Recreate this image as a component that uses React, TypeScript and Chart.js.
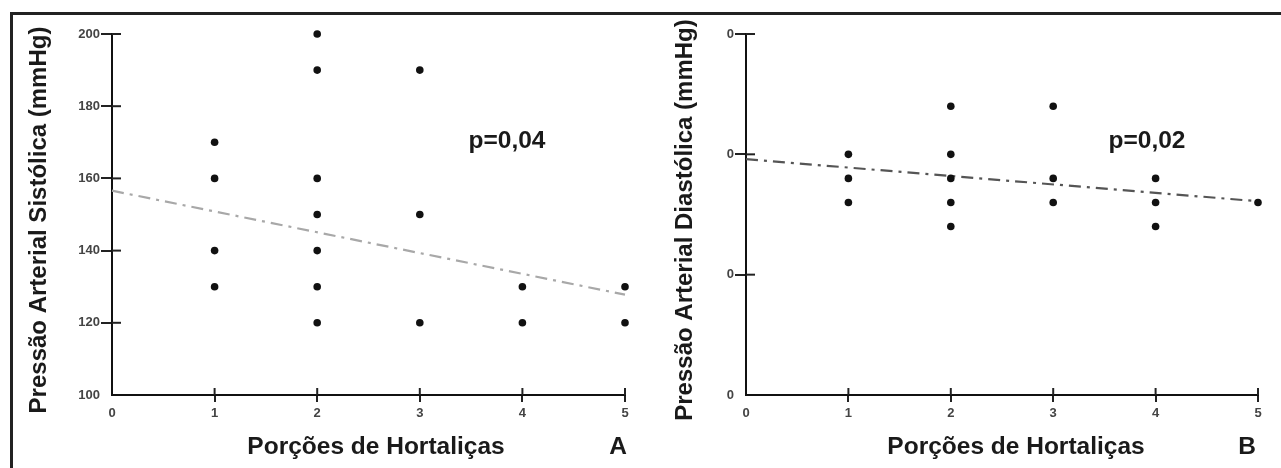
import React, { useEffect, useRef } from "react";
import { Chart, registerables } from "chart.js";
Chart.register(...registerables);

// ---------- DATA ----------
const xTicks = [0, 1, 2, 3, 4, 5];

// Panel A: systolic pressure
const portionsA = [1, 1, 1, 1, 2, 2, 2, 2, 2, 2, 2, 3, 3, 3, 4, 4, 5, 5];
const systolicA = [170, 160, 140, 130, 200, 190, 160, 150, 140, 130, 120, 190, 150, 120, 130, 120, 130, 120];
const trendXA = [0, 5];
const trendYA = [156.6, 127.8];
const yTicksA = [100, 120, 140, 160, 180, 200];
const yTickLabelsA = ["100", "120", "140", "160", "180", "200"];

// Panel B: diastolic pressure
const portionsB = [1, 1, 1, 2, 2, 2, 2, 2, 3, 3, 3, 4, 4, 4, 5];
const diastolicB = [100, 90, 80, 120, 100, 90, 80, 70, 120, 90, 80, 90, 80, 70, 80];
const trendXB = [0, 5];
const trendYB = [98, 80.5];
const yTicksB = [0, 50, 100, 150];
const yTickLabelsB = ["0", "0", "0", "0"];

const xTitle = "Porções de Hortaliças";
const yTitleA = "Pressão Arterial Sistólica (mmHg)";
const yTitleB = "Pressão Arterial Diastólica (mmHg)";
const pTextA = "p=0,04";
const pTextB = "p=0,02";

const FONT = '"Liberation Sans", Arial, sans-serif';

type PanelCfg = {
  xs: number[];
  ys: number[];
  tx: number[];
  ty: number[];
  yTicks: number[];
  yLabels: string[];
  yTitle: string;
  pText: string;
  letter: string;
  trendColor: string;
  yAxisWidth: number;
  rightPad: number;
  yTitleX: number;
  width: number;
};

function makeConfig(c: PanelCfg): any {
  const H = 468;
  const top = 34;
  const bottom = 395;
  const textPlugin = {
    id: "panelText",
    afterDraw(chart: any) {
      const ctx = chart.ctx;
      const area = chart.chartArea;
      ctx.save();
      // inner tick marks (crossing the axes)
      ctx.strokeStyle = "#222";
      ctx.lineWidth = 2;
      const ys = chart.scales.y;
      const xs = chart.scales.x;
      c.yTicks.forEach((v, i) => {
        if (i === 0) return;
        const py = ys.getPixelForValue(v);
        ctx.beginPath();
        ctx.moveTo(area.left, py);
        ctx.lineTo(area.left + 9, py);
        ctx.stroke();
      });
      xTicks.forEach((v, i) => {
        if (i === 0) return;
        const px = xs.getPixelForValue(v);
        ctx.beginPath();
        ctx.moveTo(px, area.bottom);
        ctx.lineTo(px, area.bottom - 7);
        ctx.stroke();
      });
      ctx.fillStyle = "#1a1a1a";
      ctx.font = `bold 24.5px ${FONT}`;
      // y title
      ctx.save();
      ctx.translate(c.yTitleX, 220);
      ctx.rotate(-Math.PI / 2);
      ctx.textAlign = "center";
      ctx.textBaseline = "middle";
      ctx.font = `bold 24px ${FONT}`;
      ctx.fillText(c.yTitle, 0, 0);
      ctx.restore();
      ctx.textAlign = "center";
      ctx.textBaseline = "alphabetic";
      ctx.fillText(xTitle, 376, 454);
      ctx.fillText(c.letter, c.letter === "A" ? 618 : 607, 454);
      ctx.fillText(c.pText, 507, 148);
      ctx.restore();
    },
  };
  return {
    type: "scatter",
    data: {
      datasets: [
        {
          type: "line",
          data: c.tx.map((x, i) => ({ x, y: c.ty[i] })),
          borderColor: c.trendColor,
          borderWidth: 2.2,
          borderDash: [12, 6, 3, 6],
          pointRadius: 0,
          fill: false,
          clip: false,
          order: 2,
        },
        {
          type: "scatter",
          data: c.xs.map((x, i) => ({ x, y: c.ys[i] })),
          backgroundColor: "#111",
          borderWidth: 0,
          pointRadius: 3.8,
          clip: false,
          order: 1,
        },
      ],
    },
    options: {
      responsive: false,
      animation: false,
      events: [],
      layout: { padding: { top, right: c.rightPad, bottom: 0, left: 0 } },
      plugins: { legend: { display: false }, tooltip: { enabled: false } },
      scales: {
        x: {
          type: "linear",
          min: 0,
          max: 5,
          afterBuildTicks: (s: any) => {
            s.ticks = xTicks.map((v) => ({ value: v }));
          },
          afterFit: (s: any) => {
            s.height = H - bottom;
          },
          ticks: {
            font: { family: FONT, size: 13, weight: "bold" },
            color: "#444",
            padding: 4,
            maxRotation: 0,
            callback: (v: any) => String(v),
          },
          grid: {
            drawOnChartArea: false,
            drawTicks: true,
            tickLength: 7,
            color: (ctx: any) => (ctx.index === 0 ? "rgba(0,0,0,0)" : "#222"),
            lineWidth: 2,
          },
          border: { display: true, color: "#111", width: 2 },
        },
        y: {
          type: "linear",
          min: c.yTicks[0],
          max: c.yTicks[c.yTicks.length - 1],
          afterBuildTicks: (s: any) => {
            s.ticks = c.yTicks.map((v) => ({ value: v }));
          },
          afterFit: (s: any) => {
            s.width = c.yAxisWidth;
          },
          ticks: {
            font: { family: FONT, size: 13, weight: "bold" },
            color: "#444",
            padding: 1,
            callback: (v: any) => {
              const i = c.yTicks.indexOf(Number(v));
              return i >= 0 ? c.yLabels[i] : "";
            },
          },
          grid: {
            drawOnChartArea: false,
            drawTicks: true,
            tickLength: 11,
            color: (ctx: any) => (ctx.index === 0 ? "rgba(0,0,0,0)" : "#222"),
            lineWidth: 2,
          },
          border: { display: true, color: "#111", width: 2 },
        },
      },
    },
    plugins: [textPlugin],
  };
}

function Panel({ cfg, left }: { cfg: PanelCfg; left: number }) {
  const ref = useRef<HTMLCanvasElement | null>(null);
  useEffect(() => {
    if (!ref.current) return;
    const chart = new Chart(ref.current, makeConfig(cfg));
    return () => chart.destroy();
  }, []);
  return (
    <canvas
      ref={ref}
      width={cfg.width}
      height={468}
      style={{ position: "absolute", left, top: 0, width: cfg.width, height: 468 }}
    />
  );
}

export default function App() {
  const cfgA: PanelCfg = {
    xs: portionsA,
    ys: systolicA,
    tx: trendXA,
    ty: trendYA,
    yTicks: yTicksA,
    yLabels: yTickLabelsA,
    yTitle: yTitleA,
    pText: pTextA,
    letter: "A",
    trendColor: "#a8a8a8",
    yAxisWidth: 112,
    rightPad: 15,
    yTitleX: 39,
    width: 640,
  };
  const cfgB: PanelCfg = {
    xs: portionsB,
    ys: diastolicB,
    tx: trendXB,
    ty: trendYB,
    yTicks: yTicksB,
    yLabels: yTickLabelsB,
    yTitle: yTitleB,
    pText: pTextB,
    letter: "B",
    trendColor: "#555",
    yAxisWidth: 106,
    rightPad: 23,
    yTitleX: 45,
    width: 641,
  };
  return (
    <div
      style={{
        position: "fixed",
        left: 0,
        top: 0,
        width: 1281,
        height: 468,
        background: "#fff",
        overflow: "hidden",
      }}
    >
      <Panel cfg={cfgA} left={0} />
      <Panel cfg={cfgB} left={640} />
      <div style={{ position: "absolute", left: 10, top: 12, width: 1271, height: 3, background: "#222" }} />
      <div style={{ position: "absolute", left: 10, top: 12, width: 3, height: 456, background: "#222" }} />
    </div>
  );
}
